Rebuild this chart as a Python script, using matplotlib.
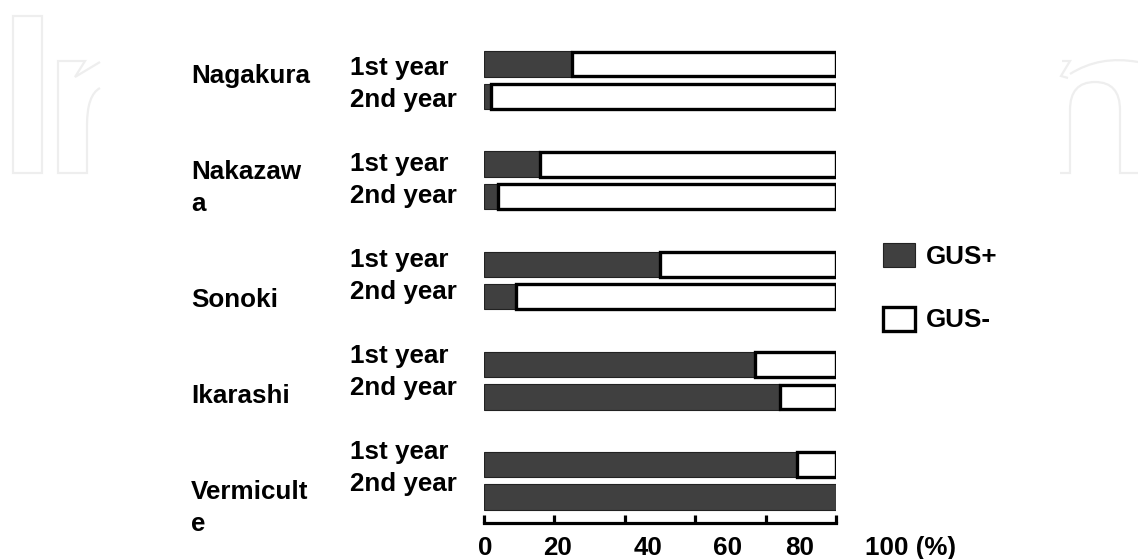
import numpy as np
import matplotlib.pyplot as plt
from matplotlib.path import Path
from matplotlib.patches import PathPatch, Rectangle

plt.rcParams['font.family'] = ['Liberation Sans', 'DejaVu Sans']
plt.rcParams['font.weight'] = 'bold'

# values (% of GUS+ plants)
sites = ["Nagakura", "Nakazaw\na", "Sonoki", "Ikarashi", "Vermicult\ne"]
years = ["1st year", "2nd year"]
gus_pos_1st = [25, 16, 50, 77, 89]
gus_pos_2nd = [2, 4, 9, 84, 100]
series_names = ["GUS+", "GUS-"]
tick_vals = [0, 20, 40, 60, 80, 100]
tick_labels = ["0", "20", "40", "60", "80", "100 (%)"]

W, H = 1138, 559
FS = 18.7
DARK = "#404040"

fig = plt.figure(figsize=(W / 100, H / 100), dpi=100)

# faint publisher watermark behind everything (pixel coords)
wm = fig.add_axes([0, 0, 1, 1], zorder=-5)
wm.set_xlim(0, W)
wm.set_ylim(H, 0)
wm.axis("off")
wm_kw = dict(fill=False, edgecolor="#eeeeee", linewidth=1.6)
wm.add_patch(Rectangle((13, 16), 29, 157, **wm_kw))
r_path = Path([(100, 88), (87, 95), (87, 125), (87, 173), (58, 173), (58, 61),
               (85, 61), (75, 77), (100, 62)],
              [Path.MOVETO, Path.CURVE3, Path.CURVE3, Path.LINETO, Path.LINETO,
               Path.LINETO, Path.LINETO, Path.LINETO, Path.LINETO])
wm.add_patch(PathPatch(r_path, **wm_kw))
n_path = Path([(1060, 173), (1070, 173), (1070, 110), (1070, 82), (1095, 82),
               (1120, 82), (1120, 110), (1120, 173), (1138, 173)],
              [Path.MOVETO, Path.LINETO, Path.LINETO, Path.CURVE3, Path.CURVE3,
               Path.CURVE3, Path.CURVE3, Path.LINETO, Path.LINETO])
wm.add_patch(PathPatch(n_path, **wm_kw))
arc_path = Path([(1070, 74), (1100, 55), (1138, 62)],
                [Path.MOVETO, Path.CURVE3, Path.CURVE3])
wm.add_patch(PathPatch(arc_path, **wm_kw))
hook_path = Path([(1062, 61), (1070, 61), (1061, 76), (1068, 78)],
                 [Path.MOVETO, Path.LINETO, Path.LINETO, Path.LINETO])
wm.add_patch(PathPatch(hook_path, **wm_kw))

ax = fig.add_axes([484 / W, 36 / H, 352 / W, 523 / H])

# two bars per site, sites a bit more than three bar rows apart
grp = np.arange(len(sites)) * 3.08
ypos = np.column_stack([grp, grp + 1]).ravel()
plus = np.column_stack([gus_pos_1st, gus_pos_2nd]).ravel()
minus = 100 - plus

dark = ax.barh(ypos, plus, height=0.78, color=DARK,
               edgecolor="#222222", linewidth=0.8)
keep = minus > 0
white = ax.barh(ypos[keep], minus[keep], left=plus[keep], height=0.76,
                color="white", edgecolor="black", linewidth=2.4)

ax.set_xlim(0, 100)
ax.set_ylim(14.12, -1.97)
for s in ["left", "top", "right"]:
    ax.spines[s].set_visible(False)
ax.spines["bottom"].set_linewidth(2.3)
ax.set_yticks([])
ax.set_xticks(tick_vals)
ax.tick_params(axis="x", direction="in", length=6, width=2.3, labelbottom=False)

# tick labels sit a little off their ticks in the original
nudge = [0.3, 1, 6.6, 9.3, 9.8, 8.2]
for v, lab, dx in zip(tick_vals, tick_labels, nudge):
    ax.text(v + dx, 15.11, lab, ha="left" if "%" in lab else "center",
            va="baseline", fontsize=FS)

# row labels; baseline of a multi-line text is its last line
name_row = [0, 0, 1, 1, 1]
line_step = 0.99
for g, site in enumerate(sites):
    base = 0.34 + g * 2.954
    for j, yr in enumerate(years):
        ax.text(-38.1, base + j * 0.97, yr, ha="left", va="baseline", fontsize=FS)
    extra = site.count("\n") * line_step
    ax.text(-83.2, base + 0.23 + name_row[g] * line_step + extra, site,
            ha="left", va="baseline", fontsize=FS, linespacing=1.42)

ax.legend([dark, white], series_names, loc="upper left",
          bbox_to_anchor=(883 / W, 1 - 243 / H), bbox_transform=fig.transFigure,
          frameon=False, borderpad=0, borderaxespad=0, handlelength=1.22,
          handleheight=1.05, handletextpad=0.43, labelspacing=1.45,
          prop={"size": FS, "weight": "bold"})

fig.savefig("out.png", dpi=100)
